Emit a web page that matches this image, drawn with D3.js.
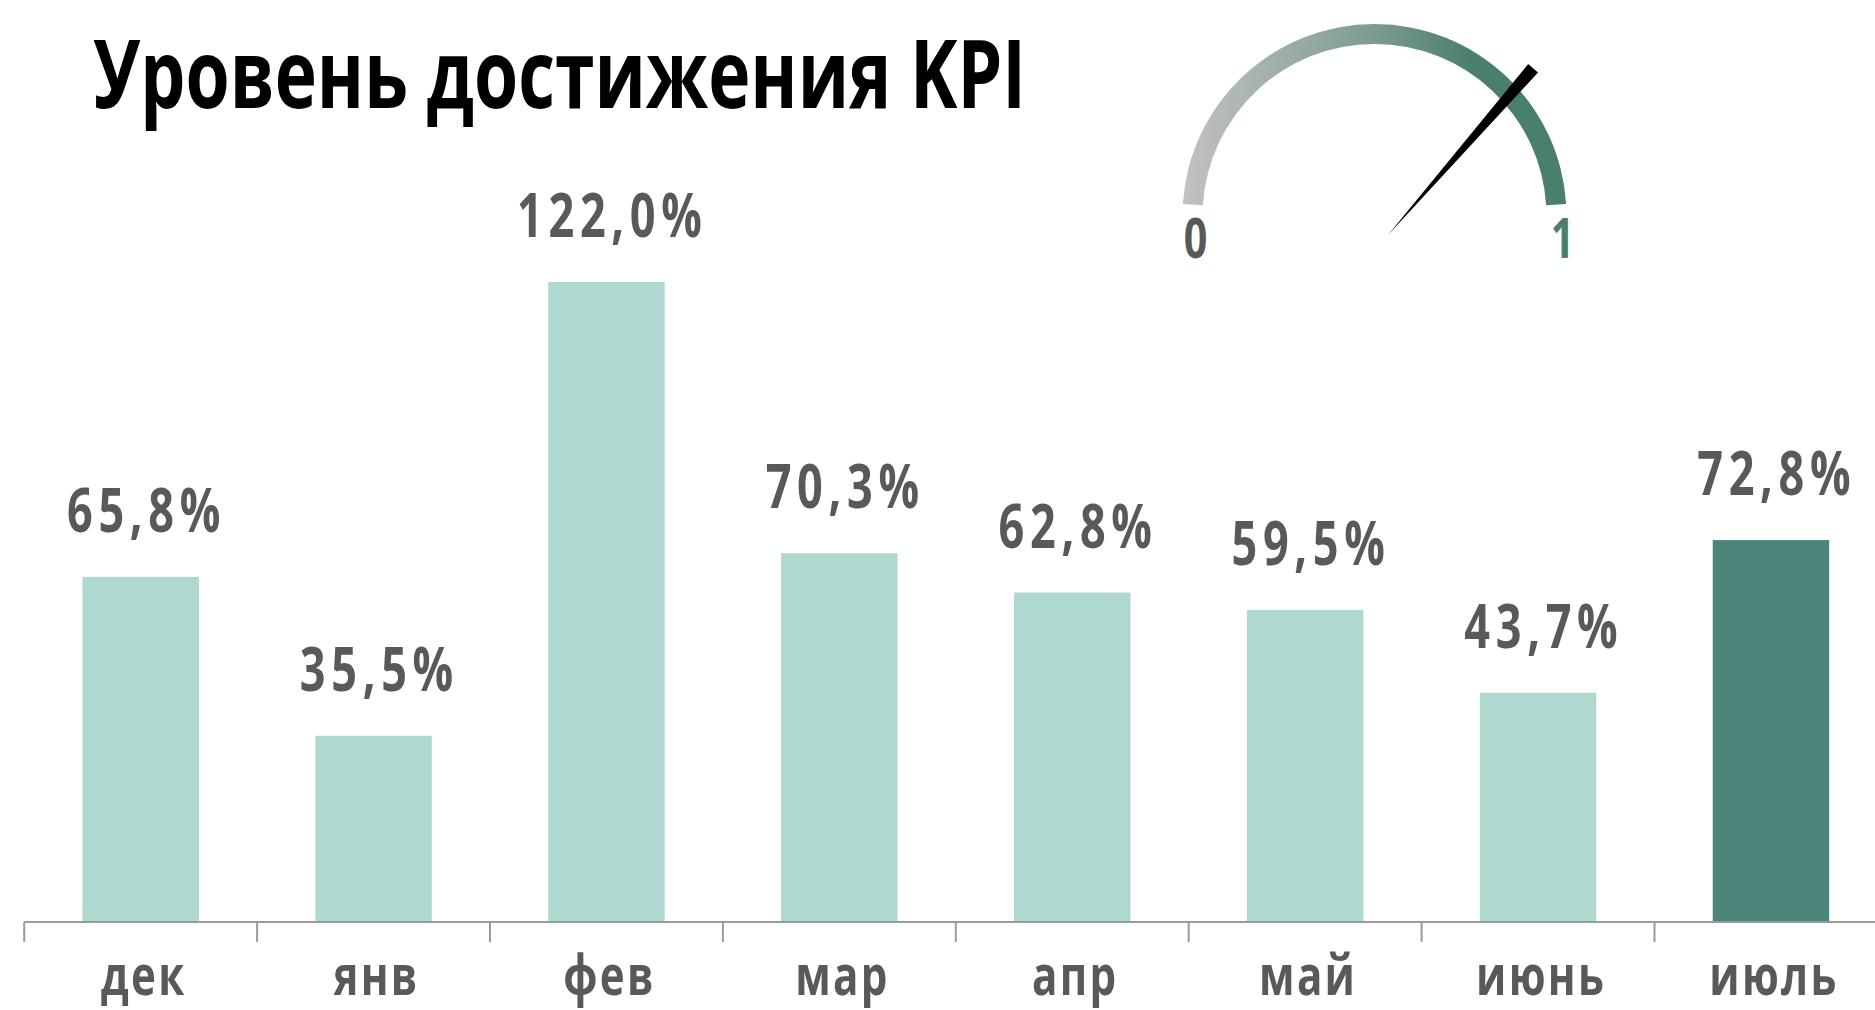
<!DOCTYPE html>
<html>
<head>
<meta charset="utf-8">
<script src="https://cdn.jsdelivr.net/npm/d3@7"></script>
<style>
  html, body { margin: 0; padding: 0; background: #ffffff; }
  svg { display: block; }
  .cond { font-family: "Open Sans", "Noto Sans", sans-serif; font-weight: bold; }
</style>
</head>
<body>
<svg id="chart" width="1875" height="1010"></svg>
<script>
// ---- data ----
const title = "Уровень достижения KPI";
const categories = ["дек", "янв", "фев", "мар", "апр", "май", "июнь", "июль"];
const values = [65.8, 35.5, 122.0, 70.3, 62.8, 59.5, 43.7, 72.8];
const valueLabels = ["65,8%", "35,5%", "122,0%", "70,3%", "62,8%", "59,5%", "43,7%", "72,8%"];
const highlighted = ["июль"];
const gaugeDomain = [0, 1];
const gaugeTickLabels = ["0", "1"];
const gaugeValue = 0.728;

// ---- layout ----
const W = 1875, H = 1010;
const axisY = 922, plotTop = 282;
const xStart = 24.2, step = 232.9;
const light = "#afd8d0", dark = "#4b8478", textGray = "#595959", green = "#4a7f6e";
const titleWidth = 933;   // horizontal extent of the title in the layout

const svg = d3.select("#chart");

// title (sets the narrow-face compression used for all texts)
const titleT = svg.append("text").attr("class", "cond")
  .attr("font-size", 95).attr("fill", "#000")
  .text(title);
const sx = titleWidth / titleT.node().getComputedTextLength();
titleT.attr("transform", `translate(93,108) scale(${sx},1)`);

function place(sel, fx, fy) {
  sel.attr("transform", (d, i) => `translate(${fx(d, i)},${fy(d, i)}) scale(${sx},1)`);
}

// scales
const x = d3.scaleBand().domain(categories)
  .range([xStart, xStart + step * categories.length])
  .paddingInner(0.5).paddingOuter(0.25);
const y = d3.scaleLinear().domain([0, d3.max(values)]).range([axisY, plotTop]);

// bars
svg.append("g").selectAll("rect").data(categories).join("rect")
  .attr("x", d => x(d))
  .attr("y", (d, i) => y(values[i]))
  .attr("width", x.bandwidth())
  .attr("height", (d, i) => y(0) - y(values[i]) + 1)
  .attr("fill", d => highlighted.includes(d) ? dark : light);

// value labels
const ls = 7.5;
const vl = svg.append("g").selectAll("text").data(categories).join("text")
  .attr("class", "cond")
  .attr("text-anchor", "middle")
  .attr("font-size", 60)
  .attr("letter-spacing", ls)
  .attr("fill", textGray)
  .text((d, i) => valueLabels[i]);
place(vl, d => x(d) + x.bandwidth() / 2 + ls * sx / 2 + 3, (d, i) => y(values[i]) - 45);

// axis line + boundary ticks
const axisG = svg.append("g");
axisG.append("line")
  .attr("x1", xStart).attr("x2", W)
  .attr("y1", axisY).attr("y2", axisY)
  .attr("stroke", "#9a9a9a").attr("stroke-width", 2);
const boundaries = d3.range(categories.length + 1).map(i => x.range()[0] + i * x.step());
axisG.selectAll("line.tick").data(boundaries).join("line")
  .attr("class", "tick")
  .attr("x1", d => d).attr("x2", d => d)
  .attr("y1", axisY).attr("y2", axisY + 20)
  .attr("stroke", "#9a9a9a").attr("stroke-width", 2);

// category labels via axis
const xAxis = d3.axisBottom(x).tickSize(0).tickPadding(0);
const gx = svg.append("g").attr("transform", `translate(0,${axisY})`).call(xAxis);
gx.select(".domain").remove();
gx.selectAll("text")
  .attr("class", "cond")
  .attr("dy", null)
  .attr("y", null)
  .attr("font-size", 56)
  .attr("letter-spacing", 3)
  .attr("fill", textGray)
  .attr("transform", `translate(3,73) scale(${sx},1)`);

// ---- gauge ----
const gcx = 1374.5, gcy = 216, rOut = 192, rIn = 172;
const endLift = 12;
const sweep = Math.acos(endLift / rOut);
const defs = svg.append("defs");
const grad = defs.append("linearGradient").attr("id", "gaugeGrad")
  .attr("gradientUnits", "userSpaceOnUse")
  .attr("x1", -rOut).attr("x2", rOut).attr("y1", 0).attr("y2", 0);
grad.append("stop").attr("offset", 0).attr("stop-color", "#c2c2c2");
grad.append("stop").attr("offset", 0.5).attr("stop-color", "#7c9c90");
grad.append("stop").attr("offset", 0.75).attr("stop-color", green);
grad.append("stop").attr("offset", 1).attr("stop-color", green);

const arc = d3.arc().innerRadius(rIn).outerRadius(rOut).startAngle(-sweep).endAngle(sweep);
svg.append("path")
  .attr("transform", `translate(${gcx},${gcy})`)
  .attr("d", arc())
  .attr("fill", "url(#gaugeGrad)");

// gauge labels
const gLabelX = [gcx - (rOut + rIn) / 2 + 3, gcx + (rOut + rIn) / 2 + 6];
const gl = svg.append("g").selectAll("text").data(gaugeDomain).join("text")
  .attr("class", "cond")
  .attr("text-anchor", "middle")
  .attr("font-size", 55)
  .attr("fill", (d, i) => i === 0 ? textGray : green)
  .text((d, i) => gaugeTickLabels[i]);
place(gl, (d, i) => gLabelX[i], () => 258);

// needle
const angle = d3.scaleLinear().domain(gaugeDomain).range([Math.PI, 0]);
const px = 1388, py = 235, nLen = 221, nHalf = 6.5;
const a = angle(gaugeValue);
const ex = px + nLen * Math.cos(a), ey = py - nLen * Math.sin(a);
const nx = Math.sin(a), ny = Math.cos(a);
svg.append("path")
  .attr("d", d3.line()([[px, py], [ex + nx * nHalf, ey + ny * nHalf], [ex - nx * nHalf, ey - ny * nHalf]]) + "Z")
  .attr("fill", "#000");
</script>
</body>
</html>
